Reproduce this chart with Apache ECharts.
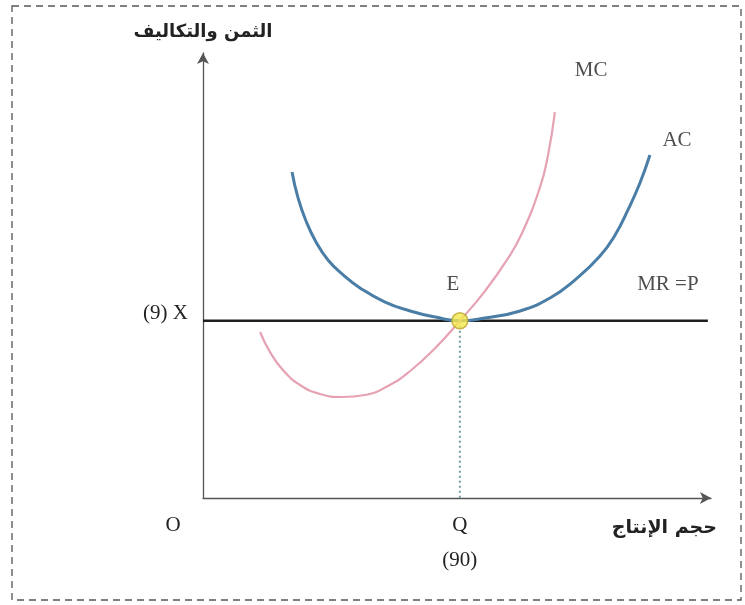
<!DOCTYPE html>
<html>
<head>
<meta charset="utf-8">
<script src="https://cdn.jsdelivr.net/npm/echarts@6/dist/echarts.min.js"></script>
<style>
  html, body { margin: 0; padding: 0; background: #fff; }
  #chart { width: 745px; height: 605px; }
</style>
</head>
<body>
<div id="chart"></div>
<script>
// quantity axis 0..178, price/cost axis 0..22.6
const xMax = 178;
const yMax = 22.6;
const priceX = 9;
const quantityQ = 90;

// marginal cost curve (MC)
const mcX = [20.0, 23.5, 28.0, 34.0, 41.0, 48.7, 56.8, 64.8, 72.6, 81.4, 90, 98.8, 106.5, 111.8, 118.1, 120.9, 123.3];
const mcY = [8.43, 7.41, 6.50, 5.74, 5.28, 5.13, 5.23, 5.69, 6.45, 7.62, 9.0, 10.51, 12.09, 13.46, 15.79, 17.42, 19.60];

// average cost curve (AC)
const acX = [31.2, 33.3, 36.1, 39.6, 43.8, 49.1, 55.0, 63.8, 72.6, 81.4, 90, 98.8, 111.1, 121.6, 130.3, 139.1, 144.4, 148.9, 153.1, 156.6];
const acY = [16.56, 15.24, 14.07, 13.0, 12.09, 11.33, 10.67, 9.95, 9.50, 9.19, 9.0, 9.14, 9.50, 10.16, 11.07, 12.29, 13.36, 14.63, 16.0, 17.42];

// MR = P horizontal line
const mrX = [0, 176.9];

// curve / point labels
const noteText = ["E", "MC", "AC", "MR =P"];
const noteX = [87.6, 136.0, 166.1, 162.9];
const noteY = [10.82, 21.69, 18.18, 10.82];

const serif = "'Liberation Serif', 'DejaVu Serif', serif";
const arabic = "'DejaVu Sans', sans-serif";
const chart = echarts.init(document.getElementById("chart"), null, { renderer: "canvas" });

const pairs = (xs, ys) => xs.map((x, i) => [x, ys[i]]);

chart.setOption({
  animation: false,
  backgroundColor: "#fff",
  grid: { left: 203, right: 34, top: 53, bottom: 107 },
  graphic: [{
    type: "rect",
    shape: { x: 12, y: 6, width: 729, height: 594 },
    style: { fill: "none", stroke: "#555", lineWidth: 1.3, lineDash: [7, 5] },
    silent: true,
  }],
  xAxis: {
    type: "value",
    min: 0,
    max: xMax,
    interval: quantityQ,
    name: "حجم الإنتاج",
    nameLocation: "end",
    nameGap: 6,
    nameTextStyle: {
      fontFamily: arabic,
      fontWeight: "bold",
      fontSize: 19,
      color: "#222",
      align: "right",
      verticalAlign: "top",
      lineHeight: 60,
    },
    axisLine: { lineStyle: { color: "#555", width: 1.3 }, symbol: ["none", "arrow"], symbolSize: [9, 11] },
    axisTick: { show: false },
    splitLine: { show: false },
    axisLabel: {
      margin: 10,
      color: "#222",
      fontFamily: serif,
      fontSize: 21,
      lineHeight: 35,
      showMaxLabel: false,
      formatter: (v) => (v === 0 ? "{o|O}" : v === quantityQ ? "Q\n(" + quantityQ + ")" : ""),
      rich: { o: { fontFamily: serif, fontSize: 21, color: "#222", lineHeight: 35, padding: [0, 60, 0, 0] } },
    },
  },
  yAxis: {
    type: "value",
    min: 0,
    max: yMax,
    interval: priceX,
    name: "الثمن والتكاليف",
    nameLocation: "end",
    nameGap: 12,
    nameTextStyle: {
      fontFamily: arabic,
      fontWeight: "bold",
      fontSize: 18,
      color: "#222",
      align: "center",
    },
    axisLine: { lineStyle: { color: "#555", width: 1.3 }, symbol: ["none", "arrow"], symbolSize: [9, 11] },
    axisTick: { show: false },
    splitLine: { show: false },
    axisLabel: {
      margin: 15,
      color: "#222",
      fontFamily: serif,
      fontSize: 21,
      showMinLabel: false,
      showMaxLabel: false,
      formatter: (v) => (v === priceX ? "{x|(" + priceX + ") X}" : ""),
      rich: { x: { fontFamily: serif, fontSize: 21, color: "#222", padding: [0, 0, 14, 0] } },
    },
  },
  series: [
    {
      name: "MR=P",
      type: "line",
      data: mrX.map((x) => [x, priceX]),
      symbol: "none",
      lineStyle: { color: "#1e1e1e", width: 2.5 },
      z: 2,
    },
    {
      name: "Q",
      type: "line",
      data: [[quantityQ, priceX], [quantityQ, 0]],
      symbol: "none",
      lineStyle: { color: "#6f9fa3", width: 2, type: [2, 3] },
      z: 1,
    },
    {
      name: "AC",
      type: "line",
      data: pairs(acX, acY),
      smooth: true,
      symbol: "none",
      lineStyle: { color: "#4a7ea6", width: 3 },
      z: 3,
    },
    {
      name: "MC",
      type: "line",
      data: pairs(mcX, mcY),
      smooth: true,
      symbol: "none",
      lineStyle: { color: "#e6a2b3", width: 2.2 },
      z: 3,
    },
    {
      name: "E",
      type: "scatter",
      data: [[quantityQ, priceX]],
      symbolSize: 16,
      itemStyle: { color: "#f3e94c", borderColor: "#b9a52a", borderWidth: 1.5 },
      z: 5,
    },
    {
      name: "notes",
      type: "scatter",
      data: noteText.map((t, i) => ({ name: t, value: [noteX[i], noteY[i]] })),
      symbolSize: 1,
      itemStyle: { color: "rgba(0,0,0,0)" },
      label: {
        show: true,
        position: "inside",
        formatter: "{b}",
        fontFamily: serif,
        fontSize: 21,
        color: "#222",
      },
      silent: true,
      z: 6,
    },
  ],
});
</script>
</body>
</html>
